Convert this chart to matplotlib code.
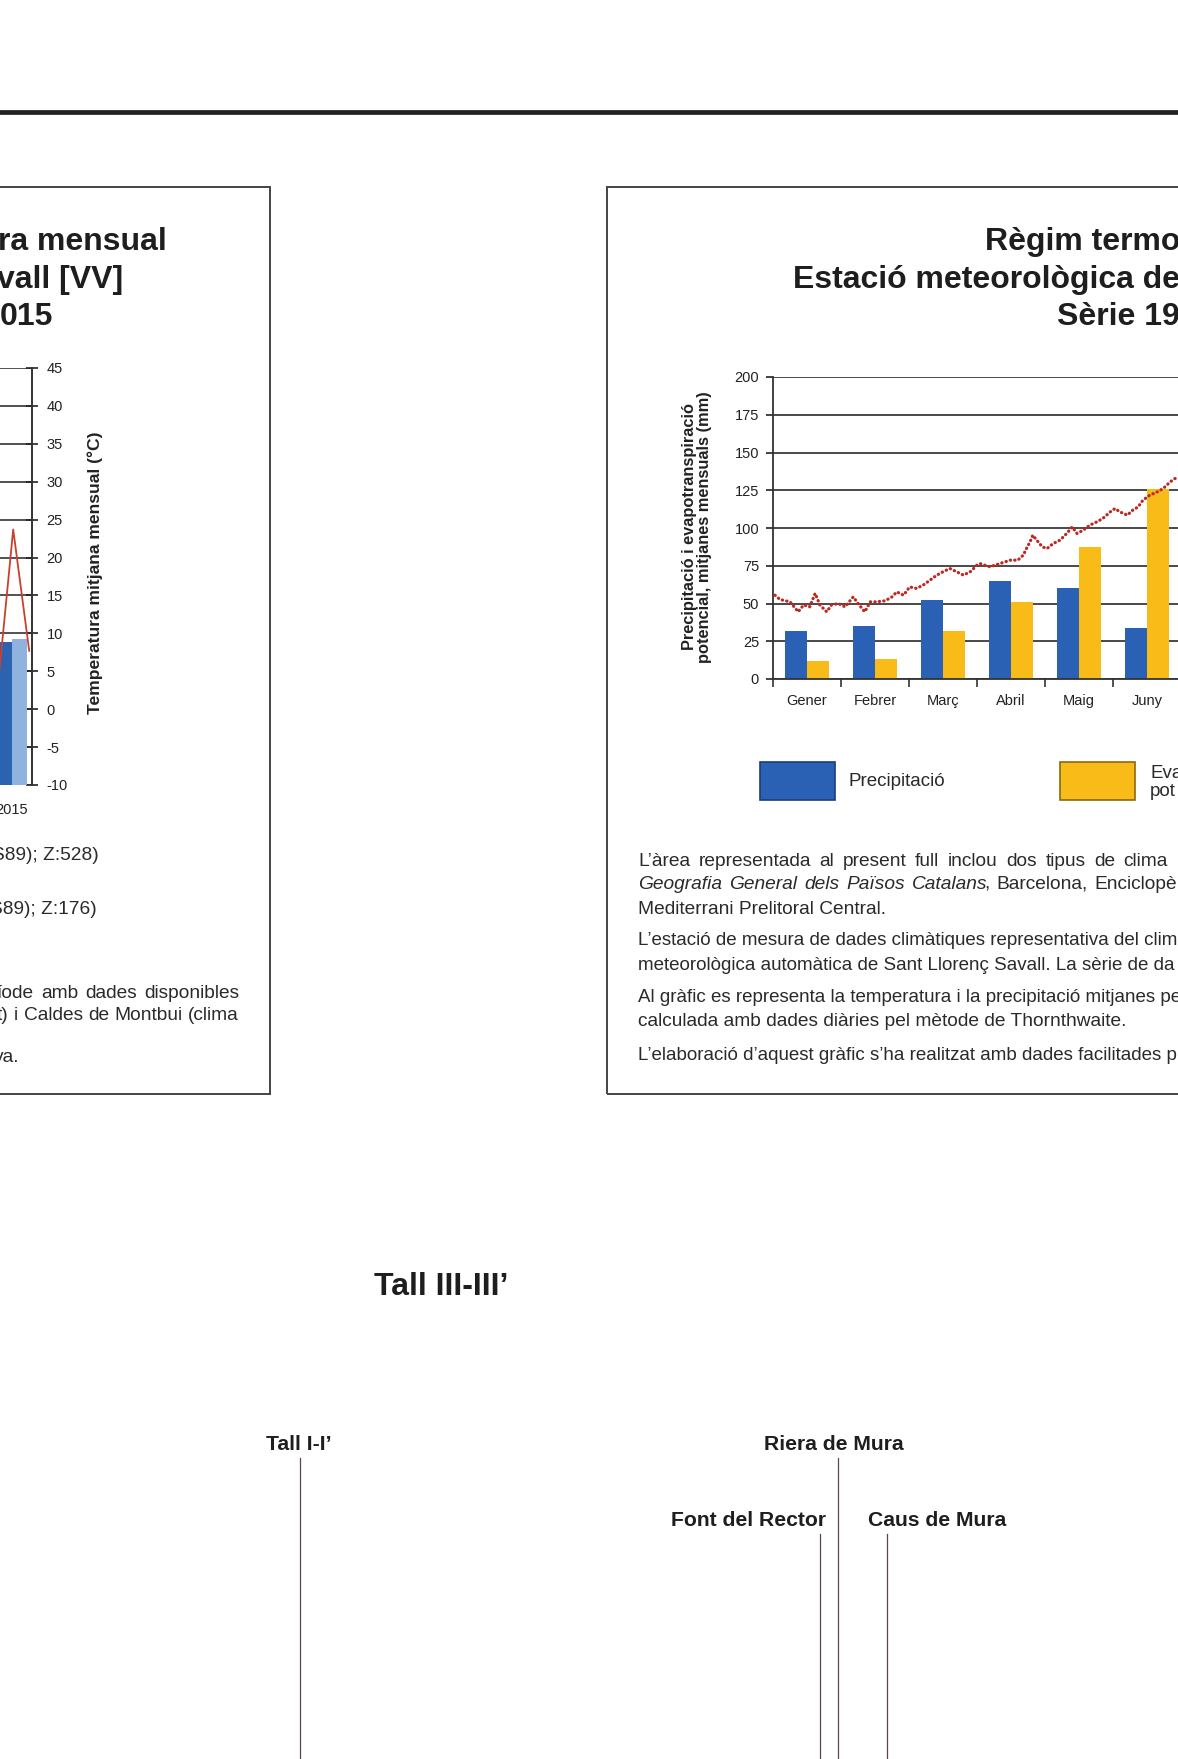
import matplotlib
matplotlib.use('Agg')
import matplotlib.pyplot as plt
from matplotlib.patches import Rectangle
from matplotlib.lines import Line2D

plt.rcParams['font.family'] = ['Liberation Sans', 'DejaVu Sans']
plt.rcParams['axes.unicode_minus'] = False

# ---------------- DATA ----------------
months = ['Gener', 'Febrer', 'Març', 'Abril', 'Maig', 'Juny']
precipitacio = [31.5, 35, 52, 65, 60, 34]
evapotranspiracio = [12, 13.5, 31.5, 51, 87.5, 126]
# daily potential evapotranspiration curve (position in months from 1 Jan, mm)
etp_pos = [0.03, 0.10, 0.25, 0.37, 0.45, 0.54, 0.62, 0.69, 0.79, 0.86, 0.96,
           1.06, 1.18, 1.25, 1.35, 1.43, 1.52, 1.65, 1.75, 1.82, 1.92,
           2.01, 2.11, 2.21, 2.31, 2.41, 2.50, 2.60, 2.70, 2.80, 2.90, 3.00,
           3.04, 3.19, 3.34, 3.49, 3.60, 3.68, 3.74, 3.78, 3.82, 3.88, 3.96,
           4.03, 4.12, 4.22, 4.32, 4.40, 4.47, 4.56, 4.66, 4.76, 4.85, 4.96,
           5.03, 5.10, 5.21, 5.29, 5.37, 5.44, 5.54, 5.65, 5.74, 5.84, 5.91,
           5.96, 6.05, 6.15]
etp_val = [55.5, 52.7, 51.1, 44.5, 49, 47.8, 56.7, 49, 44.5, 49, 50,
           47.8, 54.4, 50, 44.5, 51.1, 51.1, 51.8, 54.4, 57.7, 55.5,
           61, 60, 62.2, 65.5, 68.8, 71, 73.2, 71, 68.8, 71, 75.4,
           76.5, 74.3, 76.5, 78.7, 78.7, 82, 87.5, 90.8, 95.2, 91.9, 87.5,
           86.4, 89.7, 91.9, 96.4, 100.7, 96.4, 98.5, 101.9, 104, 106.3, 110.7,
           112.9, 110.7, 108.5, 111.8, 114, 118.4, 121.7, 123.9, 126.2, 130.5, 132.7,
           133.4, 134, 133]
right_yticks = [0, 25, 50, 75, 100, 125, 150, 175, 200]

left_years = [2015]
left_bar_dark = [8.9]
left_bar_light = [9.3]
temp_x = [2014.625, 2015.03, 2015.43]
temp_y = [1.8, 23.7, 7.7]
left_yticks = [-10, -5, 0, 5, 10, 15, 20, 25, 30, 35, 40, 45]

left_title = ['ra mensual', 'vall [VV]', '015']
left_text_short = ['S89); Z:528)', 'S89); Z:176)', 'ya.']
left_text_just = ['íode amb dades disponibles', 't) i Caldes de Montbui (clima']
right_title = ['Règim termo', 'Estació meteorològica de', 'Sèrie 19']
right_line1 = 'L’àrea representada al present full inclou dos tipus de clima'
italic_part = 'Geografia General dels Països Catalans'
regular_part = 'Barcelona, Enciclopè'
right_end_lines = [
    'Mediterrani Prelitoral Central.',
    'calculada amb dades diàries pel mètode de Thornthwaite.',
]
right_cut_lines = [
    'L’estació de mesura de dades climàtiques representativa del clim',
    'meteorològica automàtica de Sant Llorenç Savall. La sèrie de da',
    'Al gràfic es representa la temperatura i la precipitació mitjanes per',
    'L’elaboració d’aquest gràfic s’ha realitzat amb dades facilitades p',
]

# ---------------- FIGURE ----------------
W, H = 1178, 1759
fig = plt.figure(figsize=(W / 100, H / 100), dpi=100)
fig.patch.set_facecolor('white')
renderer = fig.canvas.get_renderer()


def fx(x):
    return x / W


def fy(y):
    return 1 - y / H


BLUE = '#2a61b5'
YELLOW = '#f8bb17'
RED = '#bd2820'
TXT = '#2a2a2a'
BODY = 13.8


def justify(tokens, x0, x1, yc, fontsize):
    """tokens: list of (text, style, space_before). Spread words from x0 to x1 (pixels)."""
    objs = []
    widths = []
    for text, style, _ in tokens:
        t = fig.text(0, fy(yc), text, ha='left', va='center', fontsize=fontsize,
                     style=style, color=TXT)
        objs.append(t)
        widths.append(t.get_window_extent(renderer=renderer).width)
    ngaps = sum(1 for i, tok in enumerate(tokens) if i > 0 and tok[2])
    gap = (x1 - x0 - sum(widths)) / max(ngaps, 1)
    x = x0
    for i, (t, w, tok) in enumerate(zip(objs, widths, tokens)):
        if i > 0:
            x += gap if tok[2] else -3
        t.set_x(fx(x))
        x += w


def words(text, style='normal'):
    return [(w, style, True) for w in text.split(' ')]


# top rule
fig.add_artist(Line2D([0, 1], [fy(112), fy(112)], lw=3.4, color='#222222'))

# panel boxes
fig.add_artist(Rectangle((fx(-20), fy(1094)), fx(290), (1094 - 187) / H,
                         transform=fig.transFigure, fill=False, ec='#444444', lw=1.4))
fig.add_artist(Rectangle((fx(607), fy(1094)), fx(700), (1094 - 187) / H,
                         transform=fig.transFigure, fill=False, ec='#444444', lw=1.4))

# ---------------- LEFT PANEL ----------------
for txt, xr, yb in zip(left_title, [167, 123, 53], [250, 288, 325]):
    fig.text(fx(xr), fy(yb), txt, ha='right', va='baseline', fontsize=23,
             weight='bold', color='#1e1e1e')

axL = fig.add_axes([fx(-8), fy(785), fx(40), (785 - 368) / H])
axL.set_xlim(2014.5, 2015.5)
axL.set_ylim(-10, 45)
axL.bar([y - 0.1875 for y in left_years], [v + 10 for v in left_bar_dark], width=0.375,
        bottom=-10, color='#2c63b0', zorder=2)
axL.bar([y + 0.1875 for y in left_years], [v + 10 for v in left_bar_light], width=0.375,
        bottom=-10, color='#8fb2df', zorder=2)
axL.plot(temp_x, temp_y, color='#c8412e', lw=1.3, zorder=3)
axL.set_yticks(left_yticks)
axL.yaxis.tick_right()
axL.yaxis.grid(True, color='#333333', lw=1.2)
axL.set_axisbelow(True)
axL.tick_params(axis='y', direction='inout', length=9, width=1.2, pad=6,
                labelsize=10.5, colors='#222222')
axL.set_xticks(left_years)
axL.set_xticklabels([str(y) for y in left_years])
axL.tick_params(axis='x', length=0, pad=13, labelsize=10.5, colors='#222222')
for s in ['left', 'top', 'bottom']:
    axL.spines[s].set_visible(False)
axL.spines['right'].set_color('#333333')
axL.spines['right'].set_linewidth(1.4)
axL.patch.set_alpha(0)

fig.text(fx(95), fy(573), 'Temperatura mitjana mensual (°C)', rotation=90,
         ha='center', va='center', fontsize=12.6, weight='bold', color='#222222')

for txt, xr, yc in zip(left_text_short, [99, 97, 19], [856, 910, 1057]):
    fig.text(fx(xr), fy(yc), txt, ha='right', va='center', fontsize=BODY, color=TXT)
for txt, yc in zip(left_text_just, [994, 1016]):
    justify(words(txt), -3, 239, yc, BODY)

# ---------------- RIGHT PANEL ----------------
for txt, yb in zip(right_title, [250, 288, 325]):
    fig.text(fx(1180), fy(yb), txt, ha='right', va='baseline', fontsize=23,
             weight='bold', color='#1e1e1e')

month_px = 68
axR = fig.add_axes([fx(773), fy(679), fx(12 * month_px), (679 - 377) / H])
axR.set_xlim(0, 12)
axR.set_ylim(0, 200)
xs = list(range(len(months)))
axR.bar([i + 0.335 for i in xs], precipitacio, width=0.33, color=BLUE, zorder=2)
axR.bar([i + 0.665 for i in xs], evapotranspiracio, width=0.33, color=YELLOW, zorder=2)
axR.plot(etp_pos, etp_val, color=RED, lw=2.3, linestyle=(0, (0.1, 1.3)),
         dash_capstyle='round', zorder=4)
axR.set_yticks(right_yticks)
axR.yaxis.grid(True, color='#3a3a3a', lw=1.3)
axR.set_axisbelow(True)
axR.tick_params(axis='y', direction='out', length=5, width=1.2, pad=5,
                labelsize=10.5, colors='#222222')
axR.set_xticks(range(0, 13))
axR.set_xticklabels([])
axR.set_xticks([i + 0.5 for i in xs], minor=True)
axR.set_xticklabels(months, minor=True)
axR.tick_params(axis='x', which='major', direction='out', length=6, width=1.2, colors='#333333')
axR.tick_params(axis='x', which='minor', length=0, pad=11, labelsize=10.5, colors='#222222')
for s in ['right', 'top']:
    axR.spines[s].set_visible(False)
for s in ['left', 'bottom']:
    axR.spines[s].set_color('#333333')
    axR.spines[s].set_linewidth(1.3)
axR.patch.set_alpha(0)

fig.text(fx(697), fy(527), 'Precipitació i evapotranspiració\npotencial, mitjanes mensuals (mm)',
         rotation=90, ha='center', va='center', fontsize=11.8, weight='bold',
         linespacing=1.0, multialignment='center', color='#222222')

# legend
fig.add_artist(Rectangle((fx(760), fy(800)), fx(75), 38 / H, transform=fig.transFigure,
                         fc=BLUE, ec='#1b3d78', lw=1.2))
fig.add_artist(Rectangle((fx(1060), fy(800)), fx(75), 38 / H, transform=fig.transFigure,
                         fc=YELLOW, ec='#8a6a10', lw=1.2))
fig.text(fx(849), fy(782), 'Precipitació', ha='left', va='center', fontsize=13.5, color=TXT)
fig.text(fx(1150), fy(773), 'Eva', ha='left', va='center', fontsize=13.5, color=TXT)
fig.text(fx(1150), fy(792), 'pot', ha='left', va='center', fontsize=13.5, color=TXT)

# paragraph text
justify(words(right_line1), 638, 1168, 861, BODY)
line2 = words(italic_part, 'italic') + [(',', 'normal', False)] + words(regular_part)
justify(line2, 638, 1180, 884, BODY)
for txt, yc in zip(right_end_lines, [909, 1022]):
    fig.text(fx(638), fy(yc), txt, ha='left', va='center', fontsize=BODY, color=TXT)
for txt, yc in zip(right_cut_lines, [941, 965, 997, 1055]):
    fig.text(fx(638), fy(yc), txt, ha='left', va='center', fontsize=13.5, color=TXT)

# ---------------- BOTTOM SECTION ----------------
fig.text(fx(441), fy(1287), 'Tall III-III’', ha='center', va='center', fontsize=23,
         weight='bold', color='#1e1e1e')

labels = ['Tall I-I’', 'Riera de Mura', 'Font del Rector', 'Caus de Mura']
label_x = [299, 834, 826, 868]
label_ha = ['center', 'center', 'right', 'left']
label_y = [1444, 1444, 1520, 1520]
line_x = [300, 838, 820, 887]
line_top = [1458, 1458, 1534, 1534]
for lab, lx, ha, ly in zip(labels, label_x, label_ha, label_y):
    fig.text(fx(lx), fy(ly), lab, ha=ha, va='center', fontsize=15.2, weight='bold',
             color='#1e1e1e')
for x0, y0 in zip(line_x, line_top):
    fig.add_artist(Line2D([fx(x0), fx(x0)], [fy(y0), fy(H)], lw=0.9, color='#5a4848'))

fig.savefig('out.png', dpi=100)
